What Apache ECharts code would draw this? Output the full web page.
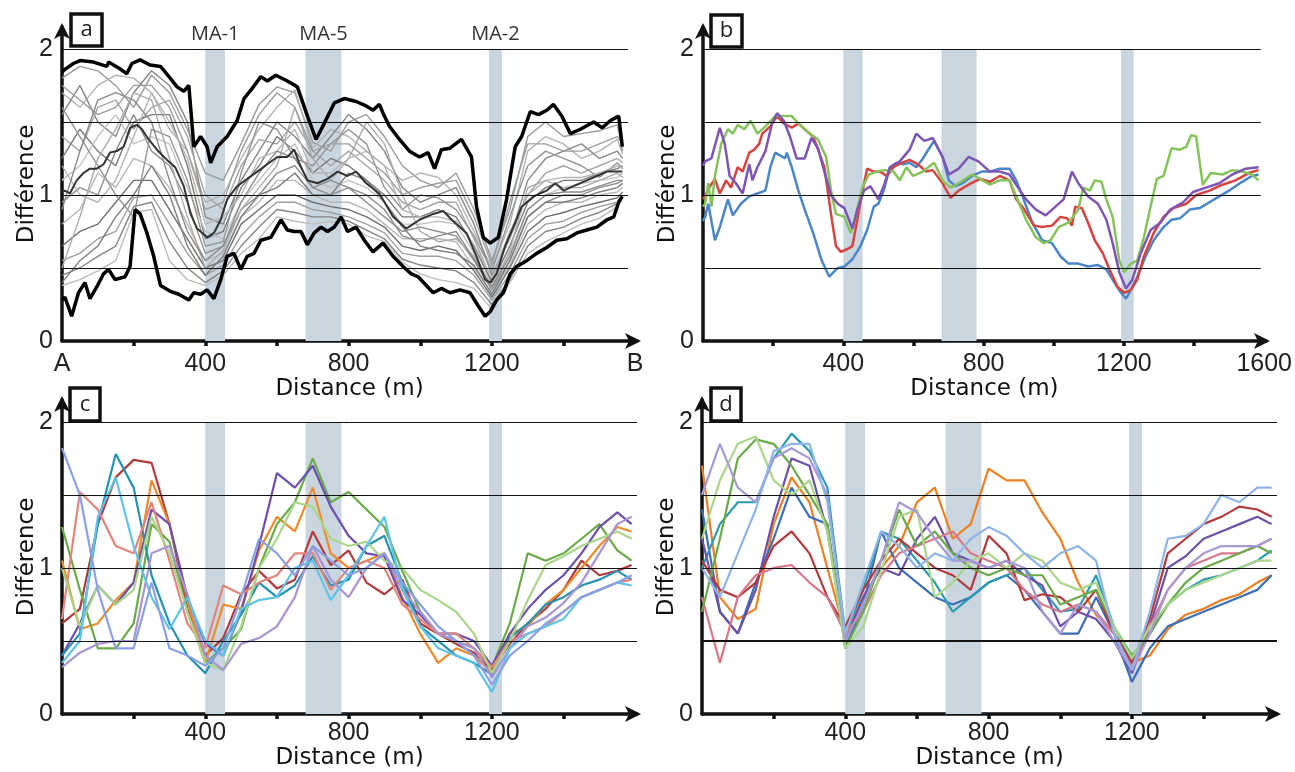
<!DOCTYPE html>
<html><head><meta charset="utf-8">
<script src="https://cdn.jsdelivr.net/npm/echarts@6/dist/echarts.min.js"></script>
<style>html,body{margin:0;padding:0;background:#fff}#c{width:1295px;height:772px}</style>
</head><body><div id="c"></div>
<script>
// ---------- shared ----------
const bands = [[400,455,'MA-1'],[680,780,'MA-5'],[1192,1228,'MA-2']];
const gridLevels = [0.5,1,1.5,2];
const xA = [0,50,100,150,200,250,300,350,400,450,500,550,600,650,700,750,800,850,900,950,1000,1050,1100,1150,1200,1250,1300,1350,1400,1450,1500,1550,1565];
const xC = [0,50,100,150,200,250,300,350,400,450,500,550,600,650,700,750,800,850,900,950,1000,1050,1100,1150,1200,1250,1300,1350,1400,1450,1500,1550,1590];

// ---------- panel a ----------
const upperEnv = [[0,1.84],[8,1.86],[32,1.90],[50,1.92],[88,1.91],[125,1.88],[130,1.91],[158,1.87],[181,1.83],[195,1.90],[218,1.925],[246,1.89],[275,1.88],[302,1.80],[321,1.74],[340,1.71],[354,1.75],[368,1.33],[387,1.40],[405,1.33],[415,1.22],[433,1.33],[461,1.40],[489,1.51],[508,1.66],[531,1.73],[555,1.81],[573,1.78],[597,1.82],[629,1.78],[657,1.74],[685,1.54],[709,1.38],[732,1.49],[760,1.63],[788,1.66],[821,1.64],[849,1.61],[868,1.58],[886,1.62],[896,1.56],[914,1.47],[942,1.38],[970,1.30],[998,1.26],[1022,1.29],[1040,1.18],[1059,1.31],[1083,1.32],[1115,1.38],[1143,1.26],[1157,0.92],[1176,0.71],[1195,0.67],[1218,0.71],[1241,0.97],[1265,1.33],[1283,1.40],[1307,1.57],[1330,1.55],[1353,1.58],[1372,1.62],[1395,1.54],[1419,1.42],[1447,1.45],[1484,1.50],[1508,1.46],[1531,1.51],[1554,1.54],[1564,1.33]];
const lowerEnv = [[0,0.28],[8,0.30],[27,0.17],[46,0.33],[64,0.40],[78,0.29],[97,0.37],[116,0.46],[130,0.49],[148,0.42],[176,0.44],[190,0.51],[204,0.90],[218,0.87],[237,0.74],[256,0.58],[275,0.38],[302,0.34],[326,0.32],[354,0.28],[368,0.33],[387,0.32],[405,0.35],[424,0.29],[443,0.42],[461,0.58],[480,0.60],[499,0.49],[517,0.58],[536,0.60],[555,0.69],[583,0.71],[611,0.83],[629,0.76],[648,0.75],[667,0.75],[685,0.66],[704,0.74],[723,0.78],[741,0.75],[760,0.78],[779,0.85],[797,0.75],[821,0.78],[844,0.69],[868,0.61],[896,0.67],[924,0.58],[952,0.51],[975,0.46],[994,0.44],[1017,0.38],[1036,0.33],[1059,0.36],[1083,0.33],[1111,0.35],[1139,0.33],[1162,0.24],[1181,0.17],[1195,0.20],[1213,0.28],[1232,0.33],[1251,0.46],[1269,0.51],[1297,0.55],[1325,0.60],[1353,0.64],[1381,0.69],[1409,0.70],[1437,0.74],[1465,0.76],[1493,0.78],[1521,0.83],[1540,0.85],[1554,0.95],[1564,0.99]];
const meanLine = [[0,1.02],[8,1.03],[22,1.01],[41,1.10],[60,1.15],[78,1.18],[97,1.18],[116,1.21],[134,1.29],[153,1.30],[172,1.33],[190,1.46],[209,1.48],[223,1.45],[242,1.38],[265,1.31],[293,1.24],[316,1.19],[340,1.06],[359,0.87],[377,0.77],[405,0.71],[424,0.74],[443,0.83],[461,0.97],[489,1.06],[517,1.11],[545,1.16],[573,1.21],[601,1.26],[629,1.26],[648,1.31],[662,1.22],[685,1.10],[713,1.08],[741,1.11],[769,1.16],[797,1.13],[821,1.16],[849,1.08],[886,1.01],[924,0.85],[961,0.77],[998,0.83],[1036,0.87],[1064,0.89],[1092,0.82],[1129,0.74],[1157,0.58],[1181,0.42],[1195,0.40],[1213,0.46],[1237,0.65],[1260,0.78],[1283,0.92],[1316,0.99],[1353,1.03],[1377,1.08],[1400,1.03],[1428,1.06],[1465,1.10],[1493,1.13],[1521,1.16],[1549,1.16],[1564,1.16]];
const g1 = [1.80,1.88,1.85,1.75,1.60,1.82,1.70,1.45,1.15,1.10,1.35,1.62,1.74,1.70,1.36,1.30,1.50,1.55,1.40,1.20,1.10,1.05,1.15,0.90,0.55,0.90,1.40,1.50,1.40,1.42,1.44,1.48,1.30];
const g2 = [1.70,1.60,1.75,1.82,1.80,1.70,1.45,1.30,0.95,1.00,1.25,1.45,1.60,1.72,1.32,1.45,1.40,1.30,1.20,1.10,1.15,1.12,1.00,0.75,0.50,0.80,1.30,1.40,1.35,1.25,1.30,1.38,1.28];
const g3 = [1.55,1.75,1.50,1.40,1.70,1.85,1.75,1.50,0.85,0.80,1.10,1.30,1.50,1.40,1.25,1.40,1.55,1.45,1.30,1.05,0.95,1.00,1.05,0.80,0.45,0.70,1.10,1.25,1.30,1.35,1.25,1.30,1.25];
const g4 = [1.40,1.30,1.60,1.65,1.45,1.60,1.65,1.40,1.00,0.90,1.20,1.38,1.35,1.50,1.30,1.20,1.30,1.20,1.10,0.95,0.90,0.95,0.95,0.70,0.42,0.75,1.00,1.15,1.20,1.15,1.20,1.25,1.22];
const g5 = [1.25,1.45,1.30,1.20,1.50,1.55,1.55,1.20,0.70,0.75,1.05,1.20,1.40,1.30,1.15,1.25,1.20,1.10,1.00,0.85,0.85,0.90,0.85,0.65,0.40,0.65,0.95,1.05,1.10,1.10,1.15,1.18,1.20];
const g6 = [1.10,1.20,1.40,1.55,1.35,1.40,1.35,1.05,0.75,0.70,0.95,1.10,1.25,1.35,1.10,1.05,1.10,1.05,0.95,0.80,0.80,0.82,0.80,0.60,0.38,0.60,0.90,1.00,1.05,1.08,1.10,1.12,1.15];
const g7 = [0.95,1.05,1.00,1.30,1.55,1.30,1.20,0.95,0.60,0.65,0.90,1.00,1.15,1.20,1.05,1.00,1.05,0.95,0.85,0.75,0.78,0.75,0.72,0.55,0.35,0.55,0.85,0.95,1.00,1.00,1.05,1.08,1.10];
const g8 = [0.80,0.90,1.15,1.05,1.25,1.20,1.05,0.80,0.55,0.60,0.85,0.95,1.10,1.10,1.00,0.95,0.95,0.90,0.80,0.70,0.70,0.70,0.68,0.50,0.33,0.52,0.80,0.90,0.95,0.95,1.00,1.02,1.05];
const g9 = [0.65,0.75,0.80,0.95,1.10,1.10,0.90,0.70,0.50,0.55,0.80,0.90,1.00,1.00,0.95,0.92,0.90,0.85,0.78,0.65,0.62,0.65,0.62,0.48,0.30,0.50,0.75,0.85,0.88,0.92,0.95,0.98,1.02];
const g10 = [0.55,0.60,0.70,0.75,0.98,1.00,0.80,0.60,0.45,0.52,0.72,0.85,0.95,0.95,0.90,0.88,0.85,0.80,0.74,0.60,0.58,0.58,0.55,0.45,0.28,0.46,0.70,0.80,0.82,0.88,0.92,0.95,1.00];
const g11 = [0.45,0.50,0.58,0.65,0.92,0.95,0.68,0.50,0.40,0.48,0.65,0.78,0.90,0.88,0.85,0.85,0.82,0.76,0.70,0.56,0.52,0.50,0.48,0.40,0.25,0.42,0.65,0.75,0.78,0.84,0.88,0.94,0.98];
const g12 = [0.38,0.42,0.48,0.55,0.88,0.90,0.55,0.42,0.38,0.45,0.60,0.70,0.85,0.82,0.80,0.82,0.80,0.72,0.68,0.54,0.46,0.42,0.40,0.36,0.22,0.40,0.60,0.68,0.74,0.80,0.84,0.92,0.99];
const g13 = [1.60,1.40,1.20,1.00,0.85,1.45,1.40,1.10,0.65,0.68,1.15,1.50,1.45,1.25,1.20,1.35,1.45,1.35,1.05,0.90,1.00,0.98,0.90,0.72,0.48,0.85,1.20,1.30,1.25,1.20,1.12,1.22,1.18];
const g14 = [0.50,0.85,1.25,1.45,1.70,1.65,1.25,0.85,0.50,0.62,0.90,1.05,1.20,1.60,1.25,1.10,1.25,1.50,1.35,1.00,0.75,0.68,0.70,0.58,0.36,0.62,1.05,1.10,1.05,1.05,1.10,1.15,1.12];
const g15 = [1.75,1.65,1.55,1.60,1.75,1.75,1.60,1.30,0.90,0.95,1.30,1.55,1.70,1.60,1.30,1.35,1.35,1.25,1.15,1.00,1.05,1.08,1.10,0.85,0.52,0.95,1.35,1.35,1.30,1.30,1.35,1.40,1.35];
const g16 = [0.40,0.55,0.65,0.85,1.00,1.20,1.00,0.65,0.45,0.58,0.85,1.00,1.05,1.15,1.00,1.00,1.15,1.10,0.95,0.78,0.65,0.62,0.60,0.52,0.32,0.55,0.85,0.95,0.95,0.98,1.02,1.05,1.08];
const g17 = [1.20,1.00,0.95,1.10,1.40,1.70,1.50,1.25,0.80,0.85,1.00,1.25,1.30,1.45,1.15,1.15,1.25,1.30,1.20,0.90,0.85,0.85,0.82,0.66,0.43,0.70,1.00,1.10,1.12,1.12,1.15,1.20,1.18];
const g18 = [0.90,1.30,1.65,1.70,1.65,1.50,1.10,0.75,0.55,0.65,0.95,1.15,1.30,1.25,1.05,1.10,1.05,1.00,0.90,0.72,0.68,0.72,0.75,0.56,0.37,0.58,0.90,1.00,1.02,1.02,1.06,1.10,1.10];
const grayLines = [g1,g2,g3,g4,g5,g6,g7,g8,g9,g10,g11,g12,g13,g14,g15,g16,g17,g18];
const grayColors = ['#9a9a9a','#b3b3b3','#878787','#a6a6a6','#7a7a7a','#c2c2c2','#8f8f8f','#b8b8b8','#6f6f6f','#a0a0a0','#858585','#bdbdbd','#949494','#acacac','#9e9e9e','#7d7d7d','#b5b5b5','#8a8a8a'];

// ---------- panel b ----------
const bBlue = [[0,0.82],[6,0.85],[15,0.94],[34,0.69],[48,0.78],[71,0.97],[85,0.86],[108,0.94],[132,0.99],[155,1.01],[178,1.03],[192,1.19],[206,1.29],[220,1.27],[234,1.25],[239,1.29],[253,1.19],[272,1.03],[290,0.90],[314,0.74],[337,0.56],[360,0.44],[384,0.50],[403,0.51],[426,0.56],[449,0.65],[468,0.76],[487,0.92],[500,0.94],[515,1.03],[533,1.19],[552,1.22],[571,1.21],[589,1.22],[608,1.19],[627,1.25],[645,1.32],[659,1.37],[683,1.26],[701,1.10],[720,1.06],[739,1.08],[767,1.13],[795,1.16],[818,1.16],[846,1.18],[874,1.18],[893,1.10],[911,0.99],[939,0.81],[967,0.69],[995,0.67],[1019,0.58],[1042,0.53],[1070,0.53],[1098,0.51],[1126,0.52],[1150,0.49],[1173,0.40],[1192,0.33],[1206,0.29],[1220,0.35],[1238,0.44],[1262,0.58],[1285,0.69],[1313,0.78],[1336,0.83],[1360,0.84],[1388,0.90],[1416,0.91],[1444,0.95],[1472,0.99],[1500,1.03],[1537,1.09],[1565,1.13],[1584,1.14]];
const bRed = [[0,0.97],[6,0.99],[20,1.06],[34,1.11],[48,1.01],[66,1.10],[80,1.05],[99,1.19],[113,1.16],[132,1.29],[146,1.31],[160,1.35],[169,1.42],[192,1.47],[211,1.54],[230,1.49],[253,1.46],[272,1.49],[290,1.45],[314,1.40],[328,1.31],[346,1.19],[365,0.87],[379,0.65],[393,0.61],[412,0.63],[426,0.65],[440,0.83],[454,1.02],[468,1.18],[487,1.16],[505,1.16],[524,1.13],[543,1.19],[566,1.22],[589,1.24],[613,1.21],[636,1.16],[655,1.17],[683,1.08],[706,0.98],[729,1.03],[757,1.07],[790,1.11],[818,1.09],[846,1.13],[874,1.10],[893,0.97],[916,0.90],[944,0.79],[967,0.78],[995,0.79],[1019,0.85],[1038,0.84],[1052,0.79],[1061,0.92],[1080,0.91],[1098,0.81],[1117,0.69],[1140,0.60],[1159,0.49],[1182,0.37],[1201,0.33],[1220,0.35],[1238,0.42],[1257,0.58],[1285,0.74],[1313,0.85],[1341,0.91],[1378,0.94],[1406,1.00],[1444,1.03],[1481,1.07],[1518,1.10],[1556,1.15],[1584,1.17]];
const bGreen = [[0,0.92],[6,0.94],[15,1.08],[24,0.92],[34,1.13],[52,1.35],[71,1.45],[85,1.42],[99,1.48],[118,1.45],[136,1.51],[155,1.42],[178,1.47],[206,1.54],[225,1.54],[253,1.54],[272,1.49],[300,1.43],[328,1.38],[351,1.26],[365,1.03],[379,0.87],[403,0.85],[421,0.74],[435,0.85],[454,1.05],[473,1.14],[496,1.16],[519,1.17],[543,1.16],[561,1.10],[580,1.19],[599,1.13],[627,1.16],[659,1.22],[683,1.10],[706,1.05],[729,1.08],[767,1.14],[790,1.11],[818,1.07],[846,1.10],[874,1.10],[893,0.99],[921,0.83],[949,0.71],[972,0.67],[991,0.69],[1014,0.78],[1042,0.81],[1070,0.90],[1084,1.05],[1103,1.03],[1117,1.10],[1136,1.09],[1150,0.97],[1168,0.85],[1187,0.55],[1201,0.47],[1220,0.53],[1238,0.55],[1257,0.71],[1276,0.92],[1294,1.11],[1313,1.13],[1336,1.32],[1360,1.31],[1378,1.33],[1392,1.41],[1406,1.40],[1425,1.07],[1448,1.15],[1481,1.14],[1509,1.17],[1537,1.16],[1565,1.14],[1584,1.10]];
const bPurple = [[0,1.20],[6,1.23],[24,1.25],[48,1.46],[62,1.35],[76,1.13],[94,1.08],[113,1.01],[132,1.21],[141,1.10],[155,1.19],[178,1.30],[197,1.49],[211,1.56],[230,1.51],[248,1.40],[267,1.25],[290,1.25],[309,1.39],[328,1.32],[346,1.16],[365,1.00],[384,0.94],[403,0.91],[426,0.77],[440,0.90],[459,1.03],[477,1.06],[500,0.97],[515,1.06],[533,1.19],[561,1.23],[589,1.31],[608,1.42],[631,1.37],[655,1.39],[683,1.26],[701,1.14],[729,1.18],[757,1.26],[785,1.23],[818,1.16],[846,1.16],[874,1.14],[893,1.07],[921,0.97],[949,0.90],[977,0.86],[1005,0.92],[1028,0.97],[1052,1.16],[1070,1.08],[1098,0.99],[1126,0.94],[1150,0.83],[1168,0.67],[1187,0.47],[1206,0.36],[1224,0.42],[1248,0.60],[1276,0.76],[1304,0.81],[1332,0.90],[1369,0.95],[1397,1.02],[1434,1.05],[1472,1.08],[1509,1.14],[1547,1.18],[1584,1.19]];

// ---------- panel c ----------
const c1 = [0.62,0.72,1.30,1.62,1.74,1.72,1.30,0.72,0.40,0.52,0.82,0.98,0.86,0.92,1.25,1.02,1.12,0.90,0.82,0.92,0.62,0.55,0.48,0.42,0.30,0.48,0.62,0.72,0.85,1.05,0.95,0.98,1.02];
const c2 = [1.05,0.58,0.62,0.78,0.90,1.60,1.30,0.78,0.35,0.75,0.72,1.12,1.35,1.25,1.55,1.10,1.00,1.05,1.10,0.80,0.55,0.35,0.45,0.40,0.28,0.55,0.60,0.75,0.85,1.00,1.15,1.28,1.25];
const c3 = [1.28,0.85,0.45,0.45,0.62,1.30,1.18,0.70,0.35,0.45,0.58,1.00,1.30,1.45,1.75,1.45,1.52,1.40,1.28,0.98,0.70,0.55,0.50,0.45,0.32,0.62,1.10,1.05,1.10,1.20,1.30,1.12,1.05];
const c4 = [0.40,0.62,0.88,0.75,0.90,1.40,1.30,0.80,0.48,0.40,0.70,1.15,1.65,1.55,1.70,1.42,1.22,1.10,1.08,0.78,0.68,0.55,0.55,0.50,0.33,0.55,0.72,0.85,0.95,1.10,1.28,1.38,1.30];
const c5 = [0.40,0.55,1.30,1.78,1.55,0.95,0.62,0.40,0.28,0.50,0.68,0.90,0.80,0.88,1.08,0.88,0.92,1.15,1.22,0.90,0.60,0.50,0.40,0.35,0.27,0.52,0.62,0.75,0.80,0.88,0.92,0.98,0.92];
const c6 = [0.65,1.52,1.40,1.15,1.10,1.45,1.05,0.62,0.45,0.88,0.82,0.90,0.95,1.10,1.10,0.85,1.00,1.05,1.00,0.75,0.65,0.55,0.55,0.45,0.32,0.50,0.55,0.60,0.70,0.80,0.85,0.90,0.92];
const c7 = [1.00,0.60,0.88,0.75,0.85,1.35,1.10,0.70,0.35,0.30,0.60,1.00,1.20,1.45,1.42,1.20,1.15,1.18,1.05,1.00,0.85,0.78,0.70,0.55,0.28,0.50,0.78,1.02,1.08,1.15,1.20,1.25,1.20];
const c8 = [0.32,0.42,0.48,0.50,0.50,1.10,1.15,0.82,0.40,0.30,0.48,0.52,0.60,0.80,1.15,0.92,0.80,1.00,1.10,0.85,0.70,0.55,0.50,0.45,0.25,0.45,0.60,0.66,0.76,0.90,1.10,1.30,1.35];
const c9 = [0.35,0.50,1.35,1.62,1.15,0.80,0.58,0.80,0.50,0.40,0.72,0.78,0.80,1.00,1.05,0.78,0.95,1.15,1.35,0.85,0.60,0.45,0.40,0.35,0.15,0.45,0.55,0.60,0.65,0.80,0.85,0.90,0.88];
const c10 = [1.82,1.50,0.85,0.45,0.45,0.90,0.45,0.40,0.33,0.45,0.80,1.20,1.10,0.95,1.15,1.05,0.95,1.00,1.10,0.90,0.75,0.60,0.50,0.40,0.20,0.40,0.50,0.62,0.70,0.80,0.85,0.90,0.95];
const cLines = [c1,c2,c3,c4,c5,c6,c7,c8,c9,c10];
const cColors = ['#b23a3c','#f08a2a','#6aaa48','#6c4fae','#2593b0','#e3857c','#a9d68b','#a993d4','#5ec3e6','#8a9fe6'];

// ---------- panel d ----------
const d1 = [1.70,0.80,0.65,0.72,1.30,1.62,1.45,1.00,0.55,0.80,1.00,1.15,1.45,1.55,1.20,1.30,1.68,1.60,1.60,1.38,1.20,0.90,0.68,0.55,0.35,0.40,0.58,0.68,0.72,0.78,0.82,0.90,0.95];
const d2 = [1.40,0.70,0.55,0.90,1.20,1.55,1.35,1.30,0.45,0.75,1.25,1.00,0.90,0.80,0.75,0.80,0.90,0.95,0.85,0.70,0.55,0.55,0.80,0.55,0.22,0.45,0.60,0.65,0.70,0.75,0.80,0.85,0.95];
const d3 = [1.00,1.30,1.45,1.45,1.75,1.92,1.80,1.55,0.55,0.85,1.25,1.20,1.05,0.90,0.70,0.80,0.90,0.95,1.00,0.85,0.70,0.72,0.95,0.60,0.35,0.55,0.75,0.85,0.92,0.95,1.00,1.05,1.12];
const d4 = [1.20,0.70,0.55,0.85,1.35,1.75,1.70,1.25,0.50,0.80,1.00,0.95,1.20,1.35,1.10,1.05,1.00,1.05,0.95,0.88,0.60,0.70,0.65,0.50,0.28,0.60,1.00,1.08,1.20,1.25,1.30,1.35,1.30];
const d5 = [1.05,0.85,0.80,0.90,1.15,1.25,1.10,0.80,0.60,0.85,1.05,1.20,1.10,1.00,0.95,0.85,1.22,1.10,0.78,0.82,0.80,0.70,0.85,0.55,0.35,0.65,1.10,1.20,1.30,1.35,1.42,1.40,1.35];
const d6 = [0.80,0.35,0.80,0.95,1.00,1.02,0.90,0.80,0.55,0.70,0.95,1.10,1.15,1.20,1.25,1.10,1.05,1.00,0.85,0.75,0.70,0.75,0.70,0.55,0.32,0.60,0.85,1.00,1.05,1.10,1.10,1.15,1.20];
const d7 = [0.70,1.20,1.75,1.88,1.85,1.70,1.50,1.30,0.45,0.70,1.05,1.40,1.15,1.25,1.10,1.00,0.95,1.00,0.95,0.95,0.75,0.80,0.85,0.60,0.40,0.55,0.75,0.90,1.00,1.05,1.10,1.15,1.10];
const d8 = [1.20,1.60,1.85,1.90,1.60,1.50,1.60,1.25,0.45,0.60,0.98,1.35,1.40,0.80,0.90,1.05,1.10,1.00,1.10,1.05,0.90,0.85,0.90,0.60,0.38,0.60,0.75,0.85,0.90,0.95,1.00,1.05,1.05];
const d9 = [1.50,1.85,1.55,1.45,1.75,1.82,1.75,1.50,0.50,0.75,1.05,1.45,1.38,1.20,1.05,1.05,1.00,1.05,1.00,0.70,0.55,0.75,0.70,0.50,0.30,0.55,0.85,1.00,1.10,1.15,1.15,1.15,1.20];
const d10 = [1.00,0.80,1.10,1.40,1.80,1.85,1.85,1.45,0.55,0.90,1.25,1.15,1.00,1.10,1.05,1.20,1.28,1.22,1.10,1.00,1.10,1.15,1.05,0.55,0.30,0.70,1.20,1.22,1.30,1.50,1.45,1.55,1.55];
const dLines = [d1,d2,d3,d4,d5,d6,d7,d8,d9,d10];
const dColors = ['#f07f22','#3e6fb6','#2a9ab2','#6b4fa8','#b23a3c','#d9788a','#6aaa48','#a9d68b','#a898d6','#8fb4e8'];

// ---------- build ----------
const NUM_FONT = "'Liberation Sans Narrow','Liberation Sans',Arial,sans-serif";
const TXT_FONT = "'DejaVu Sans',Verdana,sans-serif";
const grids = [
  {left:62, top:27, width:575, height:314},
  {left:703, top:27, width:575, height:314},
  {left:62, top:400, width:575, height:314},
  {left:702, top:400, width:575, height:314}
];
const xLabelVals = [[0,400,800,1200,1600],[400,800,1200,1600],[400,800,1200],[400,800,1200]];
const gridEnd = [1580,1590,1605,1605];
const xLabelMargin = [11,11,7,7];
const xNameGap = [37,37,29,29];

const xAxes = grids.map((g,i)=>({
  gridIndex:i, type:'value', min:0, max:1605,
  axisLine:{show:true,onZero:false,lineStyle:{color:'#111',width:3.5},symbol:['none','arrow'],symbolSize:[12,16],symbolOffset:[0,4]},
  axisTick:{show:true,customValues:[200,400,600,800,1000,1200,1400],length:5,lineStyle:{color:'#111',width:3.5}},
  axisLabel:{customValues:xLabelVals[i],fontSize:25,fontFamily:NUM_FONT,color:'#222',margin:xLabelMargin[i],
    formatter:v=> i===0 ? (v===0?'A':(v===1600?'B':String(v))) : String(v)},
  splitLine:{show:false},
  name:'Distance (m)', nameLocation:'middle', nameGap:xNameGap[i],
  nameTextStyle:{fontSize:23,fontFamily:TXT_FONT,color:'#111'}
}));
const yAxes = grids.map((g,i)=>({
  gridIndex:i, type:'value', min:0, max:2.15, interval:0.5,
  axisLine:{show:true,onZero:false,lineStyle:{color:'#111',width:3.5},symbol:['none','arrow'],symbolSize:[12,16],symbolOffset:[0,4]},
  axisTick:{show:false},
  axisLabel:{customValues:[0,1,2],fontSize:25,fontFamily:NUM_FONT,color:'#222',margin:9},
  splitLine:{show:false},
  name:'Différence', nameLocation:'middle', nameGap:23, nameMoveOverlap:false,
  nameTextStyle:{fontSize:23,fontFamily:TXT_FONT,color:'#111'}
}));

const series = [];
grids.forEach((g,i)=>{
  series.push({
    type:'line', xAxisIndex:i, yAxisIndex:i, data:[], silent:true, z:1,
    markArea:{silent:true, itemStyle:{color:'#c9d5df'},
      label:{show:i===0, position:'top', distance:5, fontSize:20, fontFamily:"'Open Sans',sans-serif", color:'#333'},
      data:bands.map(b=>[{name:b[2],xAxis:b[0],yAxis:0},{xAxis:b[1],yAxis:2}])},
    markLine:{silent:true, symbol:['none','none'], label:{show:false},
      data:gridLevels.map(l=>[{coord:[0,l],lineStyle:{color:'#111',width:(i===3&&l===0.5)?2:1,type:'solid'}},{coord:[gridEnd[i],l]}])}
  });
});
const zip = (xs,ys)=>ys.map((y,k)=>[xs[k],y]);
const line = (i,data,color,width,z)=>({type:'line',xAxisIndex:i,yAxisIndex:i,data,showSymbol:false,symbol:'none',
  lineStyle:{color,width},itemStyle:{color},z:z||3,silent:true});

grayLines.forEach((g,k)=>series.push(line(0,zip(xA,g),grayColors[k],1.4,3)));
series.push(line(0,meanLine,'#333',2,4));
series.push(line(0,upperEnv,'#000',3.5,5));
series.push(line(0,lowerEnv,'#000',3.5,5));

series.push(line(1,bBlue,'#4a86c8',2.5));
series.push(line(1,bRed,'#d9433f',2.5));
series.push(line(1,bGreen,'#86c35a',2.5));
series.push(line(1,bPurple,'#7c55b5',2.5));

cLines.forEach((c,k)=>series.push(line(2,zip(xC,c),cColors[k],2.2)));
dLines.forEach((d,k)=>series.push(line(3,zip(xC,d),dColors[k],2.2)));

const boxes = [['a',71,14,31,32],['b',711,15,31,32],['c',70,388,30,33],['d',711,388,30,33]];
const graphic = [];
boxes.forEach(b=>{
  graphic.push({type:'rect',shape:{x:b[1],y:b[2],width:b[3],height:b[4]},style:{fill:'#fff',stroke:'#111',lineWidth:3.5},z:100});
  graphic.push({type:'text',x:b[1]+b[3]/2,y:b[2]+b[4]/2,style:{text:b[0],fontSize:22,fontFamily:"'Open Sans',sans-serif",fill:'#222',align:'center',verticalAlign:'middle'},z:101});
});

const chart = echarts.init(document.getElementById('c'));
chart.setOption({
  animation:false, backgroundColor:'#fff',
  grid:grids, xAxis:xAxes, yAxis:yAxes, series, graphic
});
</script></body></html>
